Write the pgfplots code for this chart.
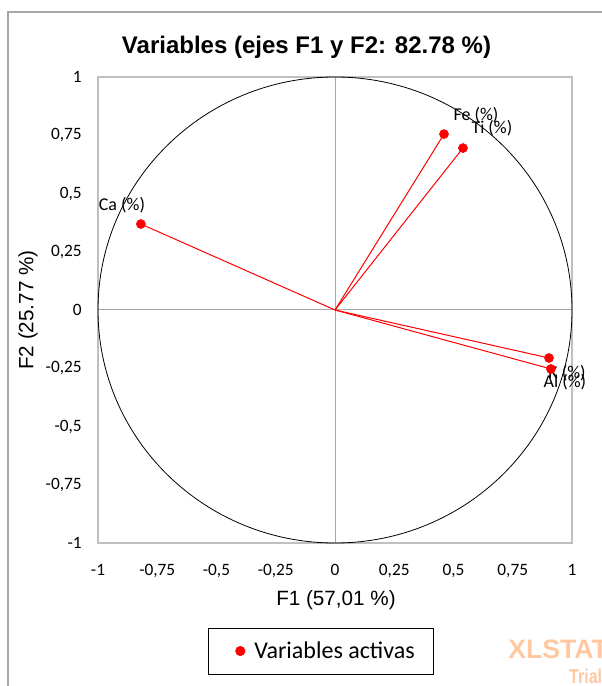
\documentclass[border=0pt]{standalone}
\usepackage{pgfplots}
\pgfplotsset{compat=1.18}
\usepackage{fontspec}
\setmainfont{Liberation Sans}
\newfontfamily\calibri{Carlito}
\definecolor{axgray}{RGB}{191,191,191}
\definecolor{zgray}{RGB}{166,166,166}
\definecolor{frgray}{RGB}{166,166,166}
\definecolor{wmark}{RGB}{255,200,160}
\begin{document}
\begin{tikzpicture}
\begin{axis}[
  scale only axis,
  width=355.5pt, height=349.5pt,
  xmin=-1, xmax=1, ymin=-1, ymax=1,
  axis line style={axgray, line width=0.9pt},
  major tick length=0pt,
  xtick={-1,-0.75,-0.5,-0.25,0,0.25,0.5,0.75,1},
  xticklabels={-1,{-0,75},{-0,5},{-0,25},0,{0,25},{0,5},{0,75},1},
  ytick={-1,-0.75,-0.5,-0.25,0,0.25,0.5,0.75,1},
  yticklabels={-1,{-0,75},{-0,5},{-0,25},0,{0,25},{0,5},{0,75},1},
  tick label style={font=\calibri\fontsize{13}{15}\selectfont},
  xticklabel style={anchor=north, inner sep=0pt, yshift=-16pt},
  yticklabel style={anchor=east, inner sep=0pt, xshift=-12pt},
  clip=false,
  legend style={at={(0.4705,-0.2318)}, anchor=center, draw=black, line width=0.75pt,
    inner xsep=0pt, inner ysep=0pt, nodes={inner sep=0pt},
    font=\calibri\fontsize{18}{21}\selectfont},
  legend image code/.code={\path[draw=none, fill=none] (-24pt,-17.25pt) rectangle (3.4pt,17.25pt); \fill[red] (0pt,0pt) circle (3.4pt);},
]
\draw[zgray, line width=0.75pt] (axis cs:-1,0) -- (axis cs:1,0);
\draw[zgray, line width=0.75pt] (axis cs:0,-1) -- (axis cs:0,1);
\draw[black, line width=0.6pt] (axis cs:0,0) ellipse [x radius=1, y radius=1];
\addplot[red, line width=0.75pt, forget plot] coordinates {(0,0) (0.460,0.755)};
\addplot[red, line width=0.75pt, forget plot] coordinates {(0,0) (0.540,0.695)};
\addplot[red, line width=0.75pt, forget plot] coordinates {(0,0) (-0.819,0.369)};
\addplot[red, line width=0.75pt, forget plot] coordinates {(0,0) (0.903,-0.206)};
\addplot[red, line width=0.75pt, forget plot] coordinates {(0,0) (0.911,-0.253)};
\addplot[only marks, mark=*, mark size=3.4pt, red, mark options={draw=red, fill=red}] coordinates {
  (0.460,0.755) (0.540,0.695) (-0.819,0.369) (0.903,-0.206) (0.911,-0.253)};
\addlegendentry{\hspace*{6.75pt}Variables activas\hspace*{14.25pt}}
\begin{scope}[font=\calibri\fontsize{13.5}{15}\selectfont, inner sep=0pt]
\node at (axis cs:0.595,0.837) {Fe (\%)};
\node at (axis cs:0.662,0.781) {Ti (\%)};
\node at (axis cs:-0.899,0.451) {Ca (\%)};
\node at (axis cs:0.979,-0.270) {K (\%)};
\node at (axis cs:0.970,-0.309) {Al (\%)};
\end{scope}
\end{axis}
\pgfresetboundingbox
\useasboundingbox (-73.5pt,-107.25pt) rectangle (377.25pt,407.25pt);
\draw[frgray, line width=1pt] (-67.5pt,-120pt) -- (-67.5pt,398.25pt) -- (400pt,398.25pt);
\node[font=\bfseries\fontsize{18}{21}\selectfont] at (156.4pt,372pt) {Variables (ejes F1 y F2: 82.78 \%)};
\node[font=\fontsize{15.5}{18}\selectfont, rotate=90] at (-52.5pt,174.75pt) {F2 (25.77 \%)};
\node[font=\fontsize{15.5}{18}\selectfont] at (178.5pt,-42.75pt) {F1 (57,01 \%)};
\node[font=\bfseries\fontsize{20}{24}\selectfont, text=wmark, anchor=base west, inner sep=0pt] at (307.5pt,-86.25pt) {XLSTAT};
\node[font=\bfseries\fontsize{15}{18}\selectfont, text=wmark, anchor=base west, inner sep=0pt, xscale=0.8] at (353.25pt,-105pt) {Trial};
\end{tikzpicture}
\end{document}
